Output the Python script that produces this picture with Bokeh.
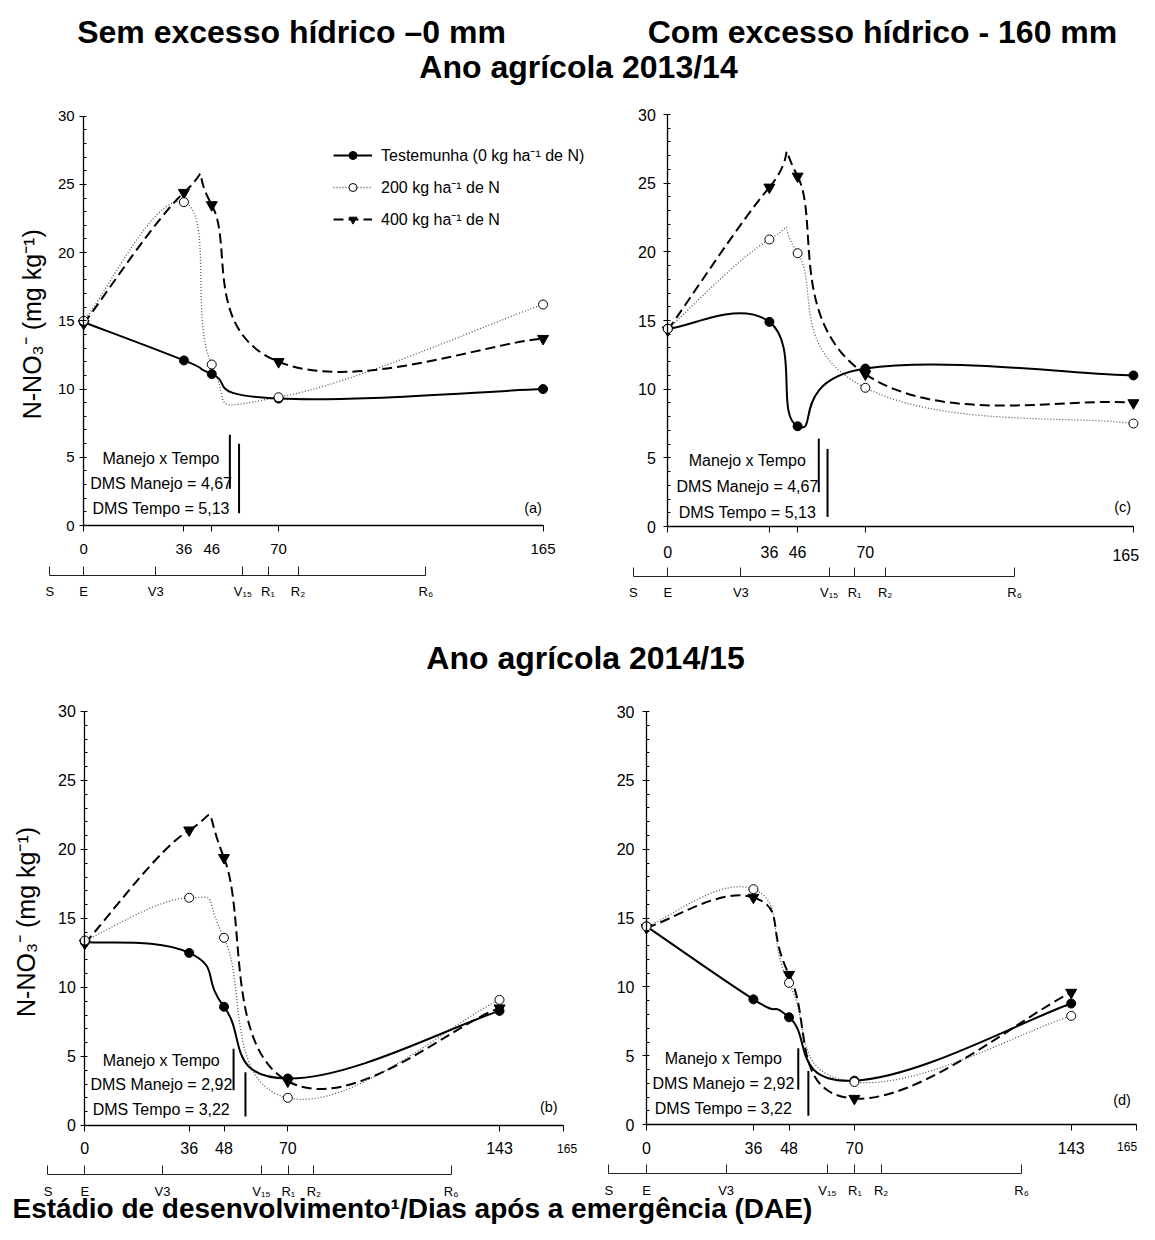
import numpy as np
from bokeh.plotting import figure
from bokeh.models import (Range1d, LinearAxis, FixedTicker, SingleIntervalTicker,
                          CustomJSTickFormatter, Label, Legend, LegendItem, ColumnDataSource)
from bokeh.embed import file_html
from bokeh.resources import INLINE

# ---------------------------------------------------------------- data
days_1314 = [0, 36, 46, 70, 165]
days_1415 = [0, 36, 48, 70, 143]

# (a) sem excesso hidrico 2013/14
a_test = [14.9, 12.1, 11.1, 9.3, 10.0]
a_n200 = [15.0, 23.7, 11.8, 9.4, 16.2]
a_n400 = [14.8, 24.4, 23.5, 12.0, 13.7]
# (c) com excesso hidrico 2013/14
c_test = [14.4, 14.9, 7.3, 11.5, 11.0]
c_n200 = [14.4, 20.9, 19.9, 10.1, 7.5]
c_n400 = [14.3, 24.7, 25.5, 11.1, 9.0]
# (b) sem excesso hidrico 2014/15
b_test = [13.3, 12.5, 8.6, 3.4, 8.3]
b_n200 = [13.4, 16.5, 13.6, 2.0, 9.1]
b_n400 = [13.2, 21.4, 19.4, 3.2, 8.5]
# (d) com excesso hidrico 2014/15
d_test = [14.4, 9.1, 7.8, 3.2, 8.8]
d_n200 = [14.4, 17.1, 10.3, 3.1, 7.9]
d_n400 = [14.3, 16.5, 10.9, 1.9, 9.6]

stage_names = ["S", "E", "V3", "V\u2081\u2085", "R\u2081", "R\u2082", "R\u2086"]
stage_days_1314 = [-12.2, 0, 25.9, 57.2, 66.2, 77.0, 122.9]
stage_days_1415 = [-12.7, 0, 26.8, 60.9, 70.2, 79.0, 126.3]

ticks_1314 = [0, 36, 46, 70, 165]
ticks_1415 = [0, 36, 48, 70, 143, 165]

dms_text_1314 = ["Manejo x Tempo", "DMS Manejo = 4,67", "DMS Tempo = 5,13"]
dms_text_1415 = ["Manejo x Tempo", "DMS Manejo = 2,92", "DMS Tempo = 3,22"]

# DMS bars (x in days, bottom, top)
a_bar_x, a_bar_lo, a_bar_hi = [52.5, 55.8], [2.7, 0.9], [6.65, 6.0]
c_bar_x, c_bar_lo, c_bar_hi = [53.5, 56.6], [2.5, 0.7], [6.4, 5.65]
b_bar_x, b_bar_lo, b_bar_hi = [51.3, 55.4], [2.55, 0.65], [5.55, 3.85]
d_bar_x, d_bar_lo, d_bar_hi = [51.1, 54.5], [2.55, 0.65], [5.55, 3.9]

legend_labels = ["Testemunha (0 kg ha\u207b\u00b9 de N)", "200 kg ha\u207b\u00b9 de N",
                 "400 kg ha\u207b\u00b9 de N"]
y_label = "N-NO\u2083\u207b  (mg kg\u207b\u00b9)"

# ---------------------------------------------------------------- layout
W, H = 1139, 1224
REG = "'Liberation Sans', Arial, sans-serif"
K = 0.23  # smoothing tension

p = figure(width=W, height=H, x_range=Range1d(0, W), y_range=Range1d(H, 0),
           x_axis_type=None, y_axis_type=None, toolbar_location=None,
           output_backend="svg", min_border=0, outline_line_color=None)

# pixel position of day 0 / value 0 and pixels per unit for each panel
geom = {
    "a": dict(x0=83.2, sx=2.784, y0=525.0, sy=13.643),
    "c": dict(x0=667.3, sx=2.822, y0=526.0, sy=13.733),
    "b": dict(x0=84.3, sx=2.900, y0=1124.9, sy=13.797),
    "d": dict(x0=646.0, sx=2.970, y0=1124.2, sy=13.773),
}
xr, yr = {}, {}
for nm, g in geom.items():
    xs = -g["x0"] / g["sx"]
    xr[nm] = Range1d(xs, xs + W / g["sx"])
    ys = (g["y0"] - H) / g["sy"]
    yr[nm] = Range1d(ys, ys + H / g["sy"])
p.extra_x_ranges = xr
p.extra_y_ranges = yr

panels = {
    "a": dict(days=days_1314, test=a_test, n200=a_n200, n400=a_n400, ticks=ticks_1314,
              stages=stage_days_1314, dms=dms_text_1314, bar=(a_bar_x, a_bar_lo, a_bar_hi),
              tag="(a)", ysize="15px", ystand=5, xstand=12, stage_loc=-3.66,
              tcx=27.8, tys=[4.89, 3.06, 1.23], tagpos=(161.4, 1.3), hide=[]),
    "c": dict(days=days_1314, test=c_test, n200=c_n200, n400=c_n400, ticks=ticks_1314,
              stages=stage_days_1314, dms=dms_text_1314, bar=(c_bar_x, c_bar_lo, c_bar_hi),
              tag="(c)", ysize="16px", ystand=8, xstand=13, stage_loc=-3.64,
              tcx=28.2, tys=[4.81, 2.91, 1.04], tagpos=(161.2, 1.4), hide=[165]),
    "b": dict(days=days_1415, test=b_test, n200=b_n200, n400=b_n400, ticks=ticks_1415,
              stages=stage_days_1415, dms=dms_text_1415, bar=(b_bar_x, b_bar_lo, b_bar_hi),
              tag="(b)", ysize="16px", ystand=5, xstand=11, stage_loc=-3.56,
              tcx=26.4, tys=[4.70, 3.0, 1.14], tagpos=(160.0, 1.32), hide=[165]),
    "d": dict(days=days_1415, test=d_test, n200=d_n200, n400=d_n400, ticks=ticks_1415,
              stages=stage_days_1415, dms=dms_text_1415, bar=(d_bar_x, d_bar_lo, d_bar_hi),
              tag="(d)", ysize="16px", ystand=8, xstand=11, stage_loc=-3.56,
              tcx=25.9, tys=[4.79, 3.0, 1.17], tagpos=(160.1, 1.78), hide=[165]),
}


def bez(xs, ys, k=K):
    n = len(xs)
    out = {key: [] for key in ("x0", "y0", "x1", "y1", "cx0", "cy0", "cx1", "cy1")}
    for i in range(n - 1):
        i0, i3 = max(i - 1, 0), min(i + 2, n - 1)
        out["x0"].append(xs[i]); out["y0"].append(ys[i])
        out["x1"].append(xs[i + 1]); out["y1"].append(ys[i + 1])
        out["cx0"].append(xs[i] + k * (xs[i + 1] - xs[i0]))
        out["cy0"].append(ys[i] + k * (ys[i + 1] - ys[i0]))
        out["cx1"].append(xs[i + 1] - k * (xs[i3] - xs[i]))
        out["cy1"].append(ys[i + 1] - k * (ys[i3] - ys[i]))
    return out


BZ = dict(x0="x0", y0="y0", x1="x1", y1="y1", cx0="cx0", cy0="cy0", cx1="cx1", cy1="cy1")
S200 = dict(line_color="#555555", line_width=1.3, line_dash="1 2")
S400 = dict(line_color="black", line_width=2, line_dash="10 5")
STEST = dict(line_color="black", line_width=2)
TXT = dict(text_font=REG, text_color="black")

markers = {}
for nm, c in panels.items():
    rn = dict(x_range_name=nm, y_range_name=nm)
    d = c["days"]
    p.bezier(source=ColumnDataSource(bez(d, c["n200"])), **BZ, **S200, **rn)
    p.bezier(source=ColumnDataSource(bez(d, c["n400"])), **BZ, **S400, **rn)
    p.bezier(source=ColumnDataSource(bez(d, c["test"])), **BZ, **STEST, **rn)
    m4 = p.scatter(d, c["n400"], marker="inverted_triangle", size=11, fill_color="black",
                   line_color="black", **rn)
    mt = p.scatter(d, c["test"], marker="circle", size=9, fill_color="black",
                   line_color="black", **rn)
    m2 = p.scatter(d, c["n200"], marker="circle", size=9, fill_color="white",
                   line_color="black", line_width=1, **rn)
    markers[nm] = (mt, m2, m4)

    # axes
    yax = LinearAxis(x_range_name=nm, y_range_name=nm, fixed_location=0, bounds=(0, 30),
                     ticker=SingleIntervalTicker(interval=5, num_minor_ticks=5),
                     major_tick_out=4, major_tick_in=0, minor_tick_out=0, minor_tick_in=3,
                     major_label_standoff=c["ystand"], major_label_text_font=REG,
                     major_label_text_color="black",
                     major_label_text_font_size=c["ysize"], axis_line_width=1.3,
                     major_tick_line_width=1, minor_tick_line_width=1)
    p.add_layout(yax, "left")
    xax = LinearAxis(x_range_name=nm, y_range_name=nm, fixed_location=0, bounds=(0, 165),
                     ticker=FixedTicker(ticks=c["ticks"]),
                     formatter=CustomJSTickFormatter(args=dict(hide=c["hide"]),
                         code="return hide.indexOf(tick) >= 0 ? '' : tick.toString();"),
                     major_tick_out=6, major_tick_in=0, minor_tick_out=0, minor_tick_in=0,
                     major_label_standoff=c["xstand"], major_label_text_font=REG,
                     major_label_text_color="black",
                     major_label_text_font_size=c["ysize"], axis_line_width=1.5)
    p.add_layout(xax, "below")
    sax = LinearAxis(x_range_name=nm, y_range_name=nm, fixed_location=c["stage_loc"],
                     bounds=(c["stages"][0], c["stages"][-1]),
                     ticker=FixedTicker(ticks=c["stages"]),
                     formatter=CustomJSTickFormatter(args=dict(pos=c["stages"], names=stage_names),
                         code="""for (let i = 0; i < pos.length; i++) {
                                   if (Math.abs(pos[i] - tick) < 1e-6) return names[i]; }
                                 return '';"""),
                     major_tick_out=0, major_tick_in=9, minor_tick_out=0, minor_tick_in=0,
                     major_label_standoff=9, major_label_text_font=REG,
                     major_label_text_color="black",
                     major_label_text_font_size="13px", axis_line_width=1,
                     axis_line_color="#222222", major_tick_line_color="#222222")
    p.add_layout(sax, "below")

    # DMS annotation
    bx, blo, bhi = c["bar"]
    p.segment(x0=bx, y0=blo, x1=bx, y1=bhi, line_color="black", line_width=2, **rn)
    for txt, ty in zip(c["dms"], c["tys"]):
        p.add_layout(Label(x=c["tcx"], y=ty, text=txt, text_align="center",
                           text_baseline="middle", text_font_size="16px", **TXT, **rn))
    p.add_layout(Label(x=c["tagpos"][0], y=c["tagpos"][1], text=c["tag"], text_align="center",
                       text_baseline="middle", text_font_size="14.5px", **TXT, **rn))

# separate "165" labels at the right edge
p.add_layout(Label(x=167.0, y=-2.04, text="165", text_align="right", text_baseline="middle",
                   text_font_size="16px", x_range_name="c", y_range_name="c", **TXT))
p.add_layout(Label(x=166.3, y=-1.67, text="165", text_align="center", text_baseline="middle",
                   text_font_size="12px", x_range_name="b", y_range_name="b", **TXT))
p.add_layout(Label(x=165.2, y=-1.58, text="165", text_align="right", text_baseline="middle",
                   text_font_size="12px", x_range_name="d", y_range_name="d", **TXT))

# legend in panel (a)
mt, m2, m4 = markers["a"]
nan = [np.nan]
l_test = p.line(x=nan, y=nan, **STEST, x_range_name="a", y_range_name="a")
l_200 = p.line(x=nan, y=nan, **S200, x_range_name="a", y_range_name="a")
l_400 = p.line(x=nan, y=nan, **S400, x_range_name="a", y_range_name="a")
legend = Legend(items=[LegendItem(label=legend_labels[0], renderers=[l_test, mt]),
                       LegendItem(label=legend_labels[1], renderers=[l_200, m2]),
                       LegendItem(label=legend_labels[2], renderers=[l_400, m4])],
                location=(333, 994), glyph_width=39, glyph_height=20, label_height=20,
                spacing=10, padding=0, margin=0, label_standoff=9,
                border_line_color=None, background_fill_alpha=0,
                label_text_font=REG, label_text_color="black", label_text_font_size="16px")
p.add_layout(legend)

# y axis titles (left panels)
for cx, cy in [(31.4, 320.3), (25.9, 918.0)]:
    p.add_layout(Label(x=cx, y=cy, text=y_label, angle=np.pi / 2,
                       text_align="center", text_baseline="middle",
                       text_font_size="25px", **TXT))

# titles
for txt, cx, cy, fs in [("Sem excesso hídrico \u20130 mm", 291, 31.7, "32px"),
                        ("Com excesso hídrico - 160 mm", 882, 31.7, "32px"),
                        ("Ano agrícola 2013/14", 578, 66.3, "32px"),
                        ("Ano agrícola 2014/15", 585, 657.7, "32px")]:
    p.add_layout(Label(x=cx, y=cy, text=txt, text_align="center",
                       text_baseline="middle", text_font_style="bold",
                       text_font_size=fs, **TXT))
p.add_layout(Label(x=12, y=1207.5,
                   text="Estádio de desenvolvimento\u00b9/Dias após a emergência (DAE)",
                   text_align="left", text_baseline="middle", text_font_style="bold",
                   text_font_size="28px", **TXT))

open("out.html", "w").write(file_html(p, INLINE))
